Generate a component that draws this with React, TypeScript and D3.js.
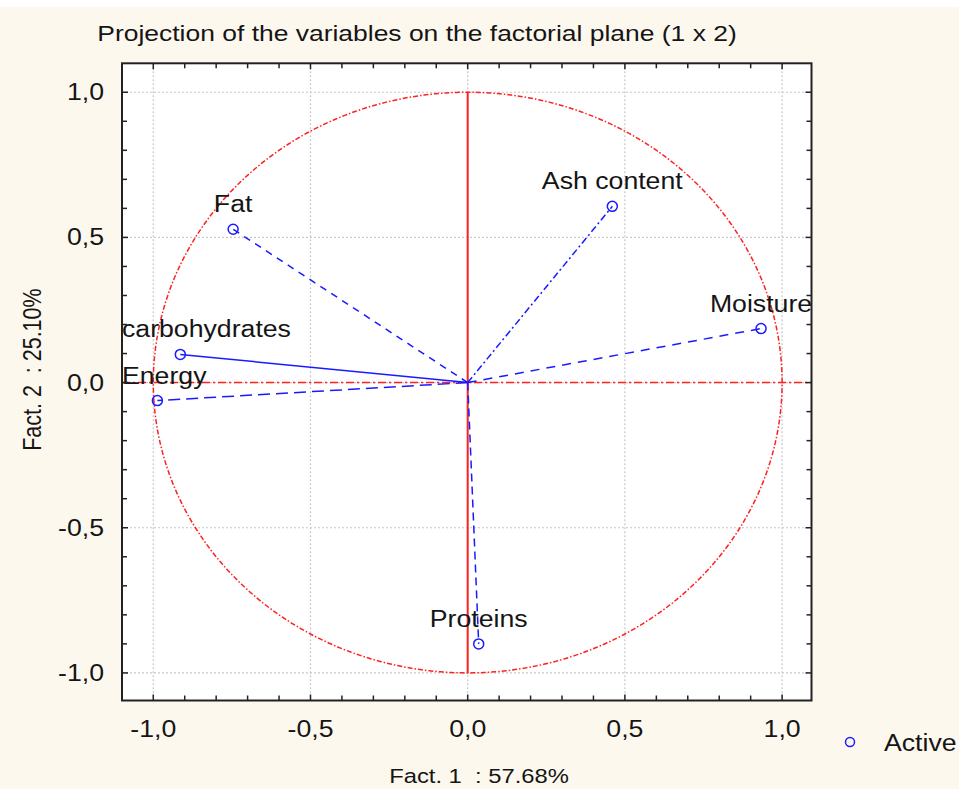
import React from "react";
import * as d3 from "d3";

const variables = ["Fat", "Ash content", "Moisture", "carbohydrates", "Energy", "Proteins"];
const fact1 = [-0.746, 0.46, 0.933, -0.914, -0.987, 0.035];
const fact2 = [0.528, 0.607, 0.186, 0.097, -0.062, -0.9];
const lineDash = ["7,6", "7,3,2,3", "9,7", "none", "12,6", "8,5"];
const majorTicks = [-1, -0.5, 0, 0.5, 1];
const tickLabels = ["-1,0", "-0,5", "0,0", "0,5", "1,0"];
const title = "Projection of the variables on the factorial plane (1 x 2)";
const xTitle = "Fact. 1  : 57.68%";
const yTitle = "Fact. 2  : 25.10%";
const legendLabel = "Active";

const W = 959, H = 789;
const L = 122, R = 811.5, T = 63.3, B = 700.5;
const FONT = "'Liberation Sans', Arial, sans-serif";
const SX = 1.16;

let ctx: CanvasRenderingContext2D | null = null;
function measure(s: string, size: number) {
  if (!ctx) ctx = document.createElement("canvas").getContext("2d");
  if (!ctx) return s.length * size * 0.5;
  ctx.font = `${size}px 'Liberation Sans', Arial, sans-serif`;
  return ctx.measureText(s).width;
}

function T2(props: { x: number; y: number; size: number; anchor?: string; children: string; rotate?: number }) {
  const { x, y, size, anchor = "start", children, rotate } = props;
  return (
    <text
      transform={`translate(${x},${y}) scale(${SX},1)${rotate ? ` rotate(${rotate})` : ""}`}
      fontSize={size}
      textAnchor={anchor}
      fill="#151515"
      style={{ whiteSpace: "pre" }}
    >
      {children}
    </text>
  );
}

export default function App() {
  const x = d3.scaleLinear().domain([-1.0995, 1.0935]).range([L, R]);
  const y = d3.scaleLinear().domain([-1.095, 1.0997]).range([B, T]);
  const minor = d3.range(-11, 12).map((d) => d / 10).filter((v) => v >= -1.09 && v <= 1.09);
  const circle = d3.range(0, 361, 1).map((a) => [Math.cos((a * Math.PI) / 180), Math.sin((a * Math.PI) / 180)]);
  const circlePath = d3.line<number[]>().x((d) => x(d[0])).y((d) => y(d[1]))(circle) || "";
  const blue = "#1a1aff";
  const red = "#ff2020";
  const LS = 23;
  return (
    <svg width={W} height={H} style={{ display: "block", position: "absolute", left: 0, top: 0 }} fontFamily={FONT}>
      <rect x={0} y={0} width={W} height={H} fill="#ffffff" />
      <rect x={0} y={7} width={W} height={H - 7} fill="#fdf8ee" />
      <rect x={L} y={T} width={R - L} height={B - T} fill="#ffffff" />
      <T2 x={417} y={41} size={22.8} anchor="middle">{title}</T2>
      {/* grid */}
      {majorTicks.map((t) => (
        <g key={"g" + t}>
          <line x1={x(t)} x2={x(t)} y1={T} y2={B} stroke="#c8c8c8" strokeWidth={1.2} strokeDasharray="2,2" />
          <line x1={L} x2={R} y1={y(t)} y2={y(t)} stroke="#c8c8c8" strokeWidth={1.2} strokeDasharray="2,2" />
        </g>
      ))}
      {/* unit circle */}
      <path d={circlePath} fill="none" stroke={red} strokeWidth={1.5} strokeDasharray="5,2,1.5,2" />
      {/* axes through origin */}
      <line x1={L} x2={R} y1={y(0)} y2={y(0)} stroke={red} strokeWidth={1.5} strokeDasharray="8,3,2,3" />
      <line x1={x(0)} x2={x(0)} y1={y(1)} y2={y(-1)} stroke={red} strokeWidth={2} />
      {/* vectors */}
      {variables.map((v, i) => (
        <line key={"l" + v} x1={x(0)} y1={y(0)} x2={x(fact1[i])} y2={y(fact2[i])} stroke={blue} strokeWidth={1.5} strokeDasharray={lineDash[i]} />
      ))}
      {variables.map((v, i) => {
        const w = measure(v, LS) * SX;
        const cx = x(fact1[i]);
        const left = Math.max(cx - w / 2, L);
        return (
          <g key={"p" + v}>
            <circle cx={cx} cy={y(fact2[i])} r={5} fill="none" stroke={blue} strokeWidth={1.5} />
            <T2 x={left} y={y(fact2[i]) - 17} size={LS}>{v}</T2>
          </g>
        );
      })}
      {/* ticks */}
      {minor.map((t) => {
        const major = Math.abs(Math.round(t * 2) - t * 2) < 1e-6;
        const len = major ? 6 : 5;
        return (
          <g key={"t" + t} stroke="#222" strokeWidth={1.5}>
            <line x1={x(t)} x2={x(t)} y1={B} y2={B - len} />
            <line x1={x(t)} x2={x(t)} y1={T} y2={T + len} />
            <line x1={L} x2={L + len} y1={y(t)} y2={y(t)} />
            <line x1={R} x2={R - len} y1={y(t)} y2={y(t)} />
          </g>
        );
      })}
      <rect x={L} y={T} width={R - L} height={B - T} fill="none" stroke="#222" strokeWidth={2} />
      {/* tick labels */}
      {majorTicks.map((t, i) => (
        <g key={"tl" + t}>
          <T2 x={x(t)} y={737} size={LS} anchor="middle">{tickLabels[i]}</T2>
          <T2 x={104} y={y(t) + 8} size={LS} anchor="end">{tickLabels[i]}</T2>
        </g>
      ))}
      <T2 x={479} y={783} size={20.5} anchor="middle">{xTitle}</T2>
      <T2 x={41} y={y(0) - 13} size={21.5} anchor="middle" rotate={-90}>{yTitle}</T2>
      {/* legend */}
      <circle cx={850} cy={742} r={4.5} fill="none" stroke={blue} strokeWidth={1.5} />
      <T2 x={884} y={751} size={LS}>{legendLabel}</T2>
    </svg>
  );
}
